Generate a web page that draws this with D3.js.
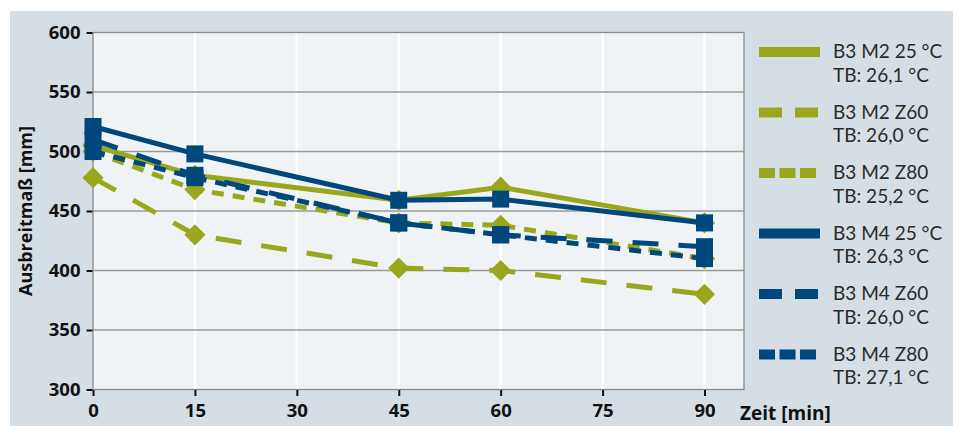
<!DOCTYPE html>
<html><head><meta charset="utf-8">
<script src="https://cdn.jsdelivr.net/npm/d3@7"></script>
<style>body{margin:0;background:#fff}svg{display:block}text{font-family:"Open Sans",sans-serif}</style>
</head><body><svg id="c" width="958" height="426"></svg>
<script>
const times = [0, 15, 45, 60, 90];
const xTicks = [0, 15, 30, 45, 60, 75, 90];
const yTicks = [300, 350, 400, 450, 500, 550, 600];
const m2_25 = [505, 480, 459, 470, 440];
const m2_z60 = [478, 430, 402, 400, 380];
const m2_z80 = [500, 468, 440, 438, 410];
const m4_25 = [521, 498, 459, 460, 440];
const m4_z60 = [510, 480, 440, 430, 420];
const m4_z80 = [500, 478, 440, 430, 410];
const names = ["B3 M2 25 °C", "B3 M2 Z60", "B3 M2 Z80", "B3 M4 25 °C", "B3 M4 Z60", "B3 M4 Z80"];
const tbLabels = ["TB: 26,1 °C", "TB: 26,0 °C", "TB: 25,2 °C", "TB: 26,3 °C", "TB: 26,0 °C", "TB: 27,1 °C"];

const GREEN = "#9aa71d", BLUE = "#00477b";
const series = [
  {v: m2_25, c: GREEN, dash: null, ldash: null, m: "d"},
  {v: m2_z60, c: GREEN, dash: "26,20", ldash: "23,13", m: "d"},
  {v: m2_z80, c: GREEN, dash: "12,9", ldash: "16,4.5", m: "d"},
  {v: m4_25, c: BLUE, dash: null, ldash: null, m: "s"},
  {v: m4_z60, c: BLUE, dash: "26,20", ldash: "23,13", m: "s"},
  {v: m4_z80, c: BLUE, dash: "12,9", ldash: "16,4.5", m: "s"}
];

const svg = d3.select("#c");
svg.append("rect").attr("x",10).attr("y",11).attr("width",943).attr("height",415).attr("fill","#d5dee4");
const L = 93, R = 744, T = 32.5, B = 389.5;
const x = d3.scaleLinear().domain([0, 90]).range([L, 704.5]);
const y = d3.scaleLinear().domain([300, 600]).range([B, T]);

svg.append("rect").attr("x",L).attr("y",T).attr("width",R-L).attr("height",B-T).attr("fill","#eff3f5");
svg.append("g").selectAll("line").data(xTicks.filter(d=>d>0)).join("line")
  .attr("x1",d=>x(d)).attr("x2",d=>x(d)).attr("y1",T).attr("y2",B)
  .attr("stroke","#fff").attr("stroke-width",2.5);
svg.append("g").selectAll("line").data(yTicks.filter(d=>d>300&&d<600)).join("line")
  .attr("x1",L).attr("x2",R).attr("y1",d=>y(d)).attr("y2",d=>y(d))
  .attr("stroke","#9a9a9a").attr("stroke-width",1.5);
svg.append("rect").attr("x",L).attr("y",T).attr("width",R-L).attr("height",B-T)
  .attr("fill","none").attr("stroke","#8a8a8a").attr("stroke-width",1.3);

const yAxis = d3.axisLeft(y).tickValues(yTicks).tickSize(6).tickPadding(6);
const gy = svg.append("g").attr("transform",`translate(${L-0.5},0)`).call(yAxis);
gy.select(".domain").remove();
gy.selectAll("line").attr("stroke","#111").attr("stroke-width",2);
gy.selectAll("text").attr("font-size",18.5).attr("font-weight","bold").attr("fill","#111")
  .style("font-family","'Open Sans',sans-serif");
const xAxis = d3.axisBottom(x).tickValues(xTicks).tickSize(6).tickPadding(8);
const gx = svg.append("g").attr("transform",`translate(0,${B+0.5})`).call(xAxis);
gx.select(".domain").remove();
gx.selectAll("line").attr("stroke","#111").attr("stroke-width",2);
gx.selectAll("text").attr("font-size",18.5).attr("font-weight","bold").attr("fill","#111")
  .style("font-family","'Open Sans',sans-serif");

svg.append("text").attr("x",740).attr("y",420).attr("font-size",19).attr("font-weight","bold")
  .attr("fill","#111").text("Zeit [min]");
svg.append("text").attr("transform","translate(32,211) rotate(-90)").attr("text-anchor","middle")
  .attr("font-size",18).attr("font-weight","bold").attr("fill","#111").text("Ausbreitmaß [mm]");

const line = d3.line().x((d,i)=>x(times[i])).y(d=>y(d));
const diamond = d3.symbol().type(d3.symbolSquare).size(15*15);
series.forEach(s=>{
  const g = svg.append("g");
  g.append("path").datum(s.v).attr("d",line).attr("fill","none").attr("stroke",s.c)
    .attr("stroke-width",5).attr("stroke-dasharray",s.dash);
  if (s.m === "d") {
    g.selectAll("path.mk").data(s.v).join("path").attr("class","mk")
      .attr("d",diamond).attr("fill",s.c)
      .attr("transform",(d,i)=>`translate(${x(times[i])},${y(d)}) rotate(45)`);
  } else {
    g.selectAll("rect.mk").data(s.v).join("rect").attr("class","mk")
      .attr("x",(d,i)=>x(times[i])-8.5).attr("y",d=>y(d)-8.5).attr("width",17).attr("height",17)
      .attr("fill",s.c);
  }
});

const lg = svg.append("g");
series.forEach((s,i)=>{
  const cy = 52 + i*60.5;
  lg.append("line").attr("x1",759).attr("x2",820).attr("y1",cy).attr("y2",cy)
    .attr("stroke",s.c).attr("stroke-width",10).attr("stroke-dasharray",s.ldash);
  lg.append("text").attr("x",833).attr("y",cy+6).attr("font-size",19).attr("fill","#2a2a2a")
    .style("font-family","Lato,sans-serif").text(names[i]);
  lg.append("text").attr("x",833).attr("y",cy+29.5).attr("font-size",19).attr("fill","#2a2a2a")
    .style("font-family","Lato,sans-serif").text(tbLabels[i]);
});
</script></body></html>
